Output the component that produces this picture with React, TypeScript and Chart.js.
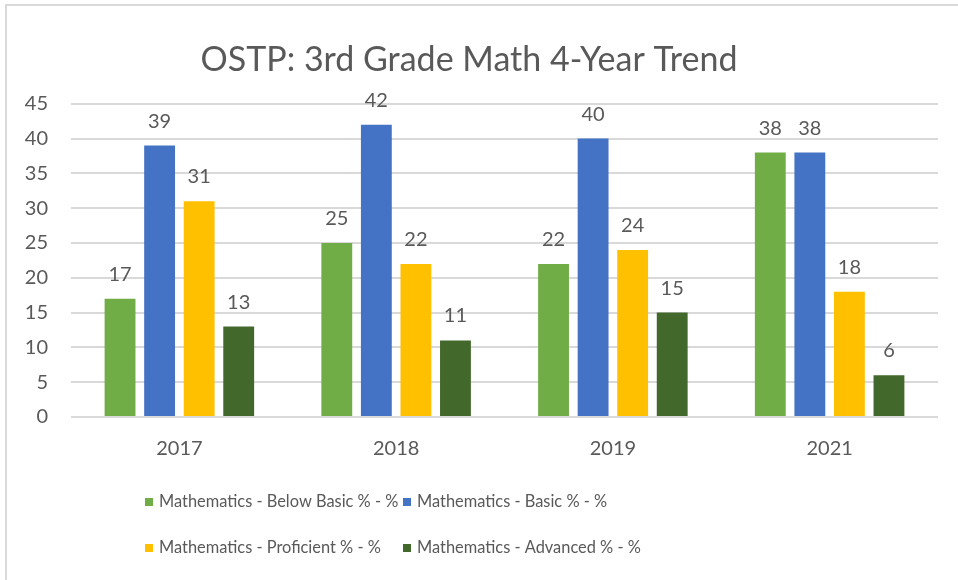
import React, { useEffect, useRef } from "react";
import { Chart, registerables } from "chart.js";

Chart.register(...registerables);

const categories = ["2017", "2018", "2019", "2021"];
const seriesNames = [
  "Mathematics - Below Basic % - %",
  "Mathematics - Basic % - %",
  "Mathematics - Proficient % - %",
  "Mathematics - Advanced % - %",
];
const belowBasic = [17, 25, 22, 38];
const basic = [39, 42, 40, 38];
const proficient = [31, 22, 24, 18];
const advanced = [13, 11, 15, 6];
const yTicks = [0, 5, 10, 15, 20, 25, 30, 35, 40, 45];

const colors = ["#70AD47", "#4472C4", "#FFC000", "#43682B"];
const textColor = "#595959";
const fontFamily = "Lato, 'Noto Sans', sans-serif";

const framePlugin = {
  id: "frame",
  beforeDraw(chart: any) {
    const ctx = chart.ctx;
    ctx.save();
    ctx.fillStyle = "#ffffff";
    ctx.fillRect(0, 0, chart.width, chart.height);
    ctx.strokeStyle = "#d9d9d9";
    ctx.lineWidth = 2;
    ctx.beginPath();
    ctx.moveTo(6, chart.height);
    ctx.lineTo(6, 5);
    ctx.lineTo(chart.width, 5);
    ctx.stroke();
    ctx.restore();
  },
};

const valueLabelPlugin = {
  id: "valueLabels",
  afterDatasetsDraw(chart: any) {
    const ctx = chart.ctx;
    ctx.save();
    ctx.fillStyle = textColor;
    ctx.font = `20px ${fontFamily}`;
    ctx.textAlign = "center";
    ctx.textBaseline = "alphabetic";
    chart.data.datasets.forEach((ds: any, i: number) => {
      const meta = chart.getDatasetMeta(i);
      meta.data.forEach((bar: any, j: number) => {
        ctx.fillText(String(ds.data[j]), bar.x, bar.y - 18);
      });
    });
    ctx.restore();
  },
};

const legendPlugin = {
  id: "gridLegend",
  afterDraw(chart: any) {
    const ctx = chart.ctx;
    const colX = [145, 403];
    const rowY = [502, 548];
    ctx.save();
    ctx.font = `16.4px ${fontFamily}`;
    ctx.textBaseline = "middle";
    ctx.textAlign = "left";
    chart.data.datasets.forEach((ds: any, i: number) => {
      const x = colX[i % 2];
      const y = rowY[Math.floor(i / 2)];
      ctx.fillStyle = ds.backgroundColor;
      ctx.fillRect(x, y - 4, 8, 8);
      ctx.fillStyle = textColor;
      ctx.fillText(ds.label, x + 14, y);
    });
    ctx.restore();
  },
};

export default function App() {
  const canvasRef = useRef<HTMLCanvasElement | null>(null);

  useEffect(() => {
    if (!canvasRef.current) return;
    const values = [belowBasic, basic, proficient, advanced];
    const chart = new Chart(canvasRef.current, {
      type: "bar",
      data: {
        labels: categories,
        datasets: seriesNames.map((name, i) => ({
          label: name,
          data: values[i],
          backgroundColor: colors[i],
          borderWidth: 0,
          categoryPercentage: 0.73,
          barPercentage: 0.78,
        })),
      },
      options: {
        animation: false,
        responsive: false,
        layout: { padding: { top: 0, right: 20, bottom: 113, left: 0 } },
        plugins: {
          legend: { display: false },
          tooltip: { enabled: false },
          title: {
            display: true,
            text: "OSTP: 3rd Grade Math 4-Year Trend",
            color: textColor,
            font: { family: fontFamily, size: 34, weight: "normal" },
            padding: { top: 40, bottom: 23 },
          },
        },
        scales: {
          x: {
            grid: { display: false },
            border: { display: false },
            ticks: { color: textColor, font: { family: fontFamily, size: 20 }, padding: 12 },
            afterFit: (s: any) => {
              s.height = 50;
            },
          },
          y: {
            min: 0,
            max: 45,
            afterBuildTicks: (s: any) => {
              s.ticks = yTicks.map((v) => ({ value: v }));
            },
            grid: { color: "#d9d9d9", lineWidth: 2, drawTicks: false },
            border: { display: false },
            ticks: { color: textColor, font: { family: fontFamily, size: 20 }, padding: 23 },
            afterFit: (s: any) => {
              s.width = 71;
            },
          },
        },
      },
      plugins: [framePlugin, valueLabelPlugin, legendPlugin],
    });
    return () => chart.destroy();
  }, []);

  return (
    <div style={{ position: "fixed", left: 0, top: 0, width: 958, height: 580 }}>
      <canvas ref={canvasRef} width={958} height={580} style={{ width: 958, height: 580 }} />
    </div>
  );
}
